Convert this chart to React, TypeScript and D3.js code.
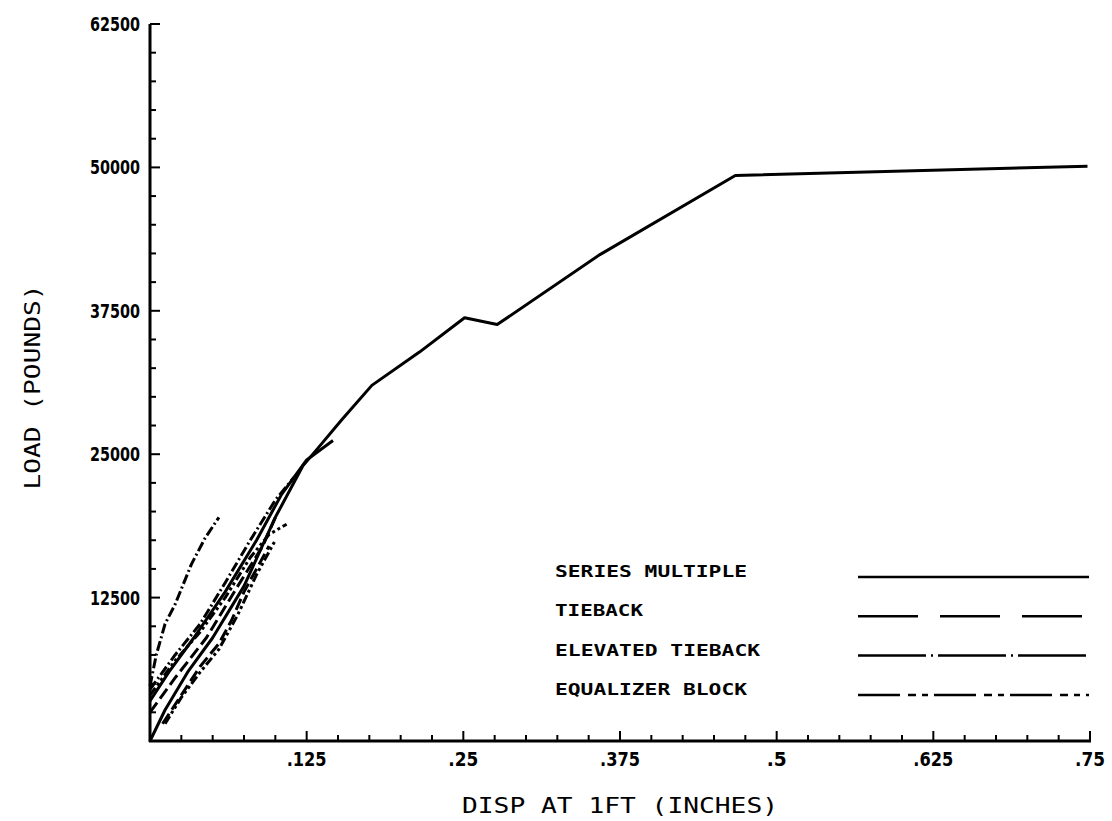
import React from "react";
import * as d3 from "d3";

// ---- axis ticks ----
const xMajorValues = [0.125, 0.25, 0.375, 0.5, 0.625, 0.75];
const xMajorLabels = [".125", ".25", ".375", ".5", ".625", ".75"];
const yMajorValues = [12500, 25000, 37500, 50000, 62500];
const yMajorLabels = ["12500", "25000", "37500", "50000", "62500"];

// ---- series (x = disp at 1 ft, inches ; y = load, pounds) ----
const seriesMultipleA: [number, number][] = [
  [0, 0], [0.012, 2700], [0.03, 6000], [0.05, 9000], [0.075, 13500], [0.1, 19500],
  [0.122, 24000], [0.133, 25400], [0.153, 28000], [0.177, 31000], [0.215, 33900],
  [0.251, 36900], [0.277, 36300], [0.359, 42400], [0.467, 49300], [0.748, 50100],
];
const seriesMultipleB: [number, number][] = [
  [0, 3500], [0.015, 6000], [0.035, 9000], [0.06, 13000], [0.085, 17500],
  [0.105, 21500], [0.125, 24500], [0.146, 26200],
];
const tiebackA: [number, number][] = [
  [0, 2500], [0.02, 5500], [0.045, 9000], [0.07, 13500], [0.09, 17000], [0.1, 19500],
];
const tiebackB: [number, number][] = [
  [0.01, 1500], [0.025, 4000], [0.04, 6500], [0.055, 8500], [0.065, 10500],
  [0.075, 13000], [0.085, 15000], [0.095, 17000],
];
const elevatedA: [number, number][] = [
  [0, 4800], [0.005, 7500], [0.012, 10200], [0.02, 11900], [0.033, 15400],
  [0.044, 17700], [0.055, 19500],
];
const elevatedB: [number, number][] = [
  [0, 4500], [0.02, 7500], [0.04, 10200], [0.06, 13800], [0.08, 17500],
  [0.1, 21000], [0.115, 23000],
];
const equalizerA: [number, number][] = [
  [0, 4000], [0.02, 7000], [0.04, 9500], [0.06, 12500], [0.08, 16000],
  [0.095, 18000], [0.109, 18900],
];
const equalizerB: [number, number][] = [
  [0.012, 1500], [0.025, 3800], [0.04, 6000], [0.055, 8000], [0.07, 11000],
  [0.085, 14500], [0.1, 17500],
];

const legendNames = ["SERIES MULTIPLE", "TIEBACK", "ELEVATED TIEBACK", "EQUALIZER BLOCK"];

const W = 1112;
const H = 821;

const curveDash = ["none", "12,5", "10,3,2,3", "9,3,3,3,3,3"];
const legendDash = ["none", "60,22", "68,5,2,5", "42,8,8,6,6,6"];

export default function App() {
  const x = d3.scaleLinear().domain([0, 0.75]).range([150, 1090]);
  const y = d3.scaleLinear().domain([0, 62500]).range([741, 24]);
  const line = d3.line<[number, number]>().x((d) => x(d[0])).y((d) => y(d[1]));

  const curves: { data: [number, number][]; kind: number }[] = [
    { data: seriesMultipleA, kind: 0 },
    { data: seriesMultipleB, kind: 0 },
    { data: tiebackA, kind: 1 },
    { data: tiebackB, kind: 1 },
    { data: elevatedA, kind: 2 },
    { data: elevatedB, kind: 2 },
    { data: equalizerA, kind: 3 },
    { data: equalizerB, kind: 3 },
  ];

  const xMinor = d3.range(0, 31).map((i) => i * 0.025);
  const yMinor = d3.range(0, 26).map((i) => i * 2500);

  const tickFont = "'DejaVu Sans', sans-serif";
  const monoFont = "'DejaVu Sans Mono', monospace";

  return (
    <svg
      width={W}
      height={H}
      viewBox={`0 0 ${W} ${H}`}
      style={{ position: "absolute", left: 0, top: 0, background: "#fff" }}
    >
      <rect x={0} y={0} width={W} height={H} fill="#fff" />
      {/* axes */}
      <g stroke="#000" fill="none">
        <line x1={x(0)} x2={x(0)} y1={y(62500)} y2={y(0) + 1} strokeWidth={3} />
        <line x1={x(0) - 1} x2={x(0.75) + 1} y1={y(0)} y2={y(0)} strokeWidth={3} />
        {xMinor.map((v, i) => {
          const major = i % 5 === 0;
          return (
            <line key={"xm" + i} x1={x(v)} x2={x(v)} y1={y(0)} y2={y(0) - (major ? 10 : 6)} strokeWidth={2} />
          );
        })}
        {yMinor.map((v, i) => {
          const major = i % 5 === 0;
          return (
            <line key={"ym" + i} x1={x(0)} x2={x(0) + (major ? 10 : 6)} y1={y(v)} y2={y(v)} strokeWidth={2} />
          );
        })}
      </g>
      {/* tick labels */}
      <g fill="#000" fontFamily={tickFont} fontWeight="bold" fontSize={20}>
        {yMajorValues.map((v, i) => (
          <text
            key={"yl" + i}
            x={90}
            y={y(v) + 7}
            textLength={50}
            lengthAdjust="spacingAndGlyphs"
          >
            {yMajorLabels[i]}
          </text>
        ))}
        {xMajorValues.map((v, i) => {
          const w = xMajorLabels[i].length * 10;
          return (
            <text
              key={"xl" + i}
              x={x(v) - w / 2}
              y={766}
              textLength={w}
              lengthAdjust="spacingAndGlyphs"
            >
              {xMajorLabels[i]}
            </text>
          );
        })}
      </g>
      {/* axis titles */}
      <g fill="#000" fontFamily={monoFont} fontSize={21}>
        <text x={462} y={813} textLength={316} lengthAdjust="spacingAndGlyphs">
          DISP AT 1FT (INCHES)
        </text>
        <text
          transform={`translate(40, 387) rotate(-90)`}
          textAnchor="middle"
          textLength={205}
          lengthAdjust="spacingAndGlyphs"
        >
          LOAD (POUNDS)
        </text>
      </g>
      {/* curves */}
      <g fill="none" stroke="#000" strokeWidth={3} strokeLinejoin="round">
        {curves.map((c, i) => (
          <path key={"c" + i} d={line(c.data) || ""} strokeDasharray={curveDash[c.kind]} />
        ))}
      </g>
      {/* legend */}
      <g>
        {legendNames.map((n, i) => {
          const ly = 577 + i * 39.3;
          return (
            <g key={"lg" + i}>
              <text
                x={555}
                y={ly}
                fontFamily={monoFont}
                fontSize={16}
                fontWeight="bold"
                textLength={n.length * 13 - 3}
                lengthAdjust="spacingAndGlyphs"
                fill="#000"
              >
                {n}
              </text>
              <line
                x1={858}
                x2={1089}
                y1={ly}
                y2={ly}
                stroke="#000"
                strokeWidth={2.5}
                strokeDasharray={legendDash[i]}
              />
            </g>
          );
        })}
      </g>
    </svg>
  );
}
